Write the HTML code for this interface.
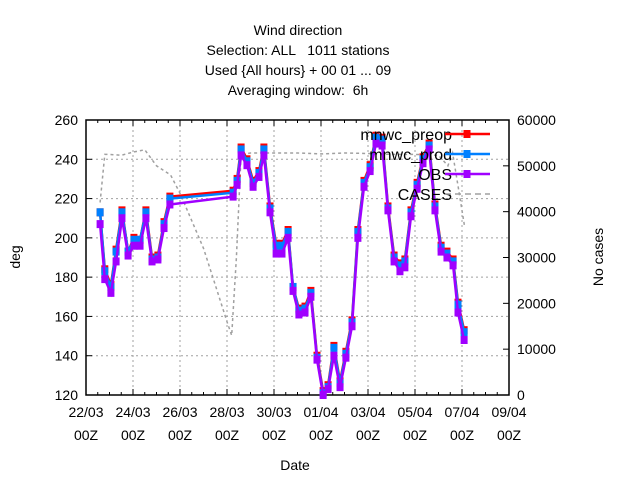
<!DOCTYPE html>
<html><head><meta charset="utf-8"><style>
body{margin:0;background:#fff;}
svg text{font-family:"Liberation Sans",sans-serif;font-size:14px;fill:#000;white-space:pre;}
#legend text{font-size:16px;}
</style></head><body>
<svg id="c" width="640" height="480">
<g>
<text x="298" y="35" text-anchor="middle">Wind direction</text>
<text x="298" y="55" text-anchor="middle">Selection: ALL   1011 stations</text>
<text x="298" y="75" text-anchor="middle">Used {All hours} + 00 01 ... 09</text>
<text x="298" y="95" text-anchor="middle">Averaging window:  6h</text>
</g>
<text transform="translate(20,257) rotate(-90)" text-anchor="middle">deg</text>
<text transform="translate(603,257) rotate(-90)" text-anchor="middle">No cases</text>
<text x="295" y="470" text-anchor="middle">Date</text>
<g id="grid"></g>
<g id="axes"></g>
<g id="series"></g>
<g id="legend"></g>
</svg>
<script>
const xTickLabels=["22/03","24/03","26/03","28/03","30/03","01/04","03/04","05/04","07/04","09/04"];
const yTicks=[120,140,160,180,200,220,240,260];
const y2Ticks=[0,10000,20000,30000,40000,50000,60000];
const days=[0.6,0.8,1.06,1.28,1.53,1.79,2.04,2.3,2.55,2.81,3.06,3.32,3.57,6.26,6.43,6.6,6.85,7.11,7.36,7.57,7.83,8.09,8.34,8.6,8.81,9.06,9.32,9.57,9.83,10.09,10.3,10.55,10.81,11.06,11.32,11.57,11.83,12.09,12.34,12.6,12.85,13.11,13.36,13.57,13.83,14.09,14.34,14.6,14.85,15.11,15.36,15.62,15.83,16.09];
const preop=[213,184,176,194,214,193,200,199,214,190,191,208,221,224,230,246,240,229,234,246,216,197,197,204,175,164,165,173,140,122,125,145,127,142,158,204,229,237,252,251,216,191,187,189,214,228,241,248,217,196,193,189,167,153];
const prod=[213,183,175,193,213,193,199,199,213,189,190,207,220,223,229,245,239,228,233,245,215,196,196,203,175,163,164,172,139,121,124,144,126,141,157,203,228,236,251,250,215,190,186,188,213,227,240,247,216,195,192,188,166,152];
const obs=[207,179,172,188,210,191,196,196,210,188,189,205,217,221,227,242,237,226,231,242,213,192,192,200,173,161,162,170,138,120,123,140,124,139,155,200,226,234,248,247,214,188,183,185,211,225,238,245,214,193,190,186,162,148];
const caseDays=[0.6,0.8,1.0,1.5,2.0,2.5,3.0,3.3,3.6,4.0,4.5,5.0,5.5,6.0,6.2,6.4,6.6,7.0,8.0,9.0,10.0,11.0,12.0,13.0,14.0,15.0,15.4,15.6,15.85,16.1];
const cases=[42000,52500,52500,52300,53000,53500,50000,49000,48000,44000,38000,32000,24000,16000,13000,30000,52500,52800,52800,52800,52600,52800,52700,52500,52500,52300,50000,52800,45000,37000];
const X0=86,X1=509,Y0=395,Y1=120;
const xs=d=>X0+(X1-X0)*d/18;
const ys=v=>Y0-(Y0-Y1)*(v-120)/140;
const y2s=v=>Y0-(Y0-Y1)*v/60000;
const NS="http://www.w3.org/2000/svg";
function mk(t,a,p){const e=document.createElementNS(NS,t);for(const k in a)e.setAttribute(k,a[k]);p.appendChild(e);return e;}
const grid=document.getElementById('grid'),axes=document.getElementById('axes'),ser=document.getElementById('series'),leg=document.getElementById('legend');
yTicks.forEach(v=>{const y=ys(v);
 if(v>120&&v<260){const l=mk('line',{x1:X0,x2:X1,y1:y,y2:y,stroke:'#a0a0a0','stroke-dasharray':'2,3'},grid);}
 mk('line',{x1:X0,x2:X0+6,y1:y,y2:y,stroke:'#000'},axes);
 const t=mk('text',{x:X0-8,y:y+5,'text-anchor':'end'},axes);t.textContent=v;
 });
y2Ticks.forEach(v=>{const y=y2s(v);
 mk('line',{x1:X1-6,x2:X1,y1:y,y2:y,stroke:'#000'},axes);
 const t=mk('text',{x:X1+8,y:y+5},axes);t.textContent=v;
 });
for(let d=0;d<=18;d+=0.5){const x=xs(d);const major=d%2===0;
 mk('line',{x1:x,x2:x,y1:Y0,y2:Y0-(major?6:3),stroke:'#000'},axes);
 mk('line',{x1:x,x2:x,y1:Y1,y2:Y1+(major?6:3),stroke:'#000'},axes);}
xTickLabels.forEach((s,i)=>{const x=xs(i*2);
 if(i>0&&i<9){const l=mk('line',{x1:x,x2:x,y1:Y1,y2:Y0,stroke:'#a0a0a0','stroke-dasharray':'2,3'},grid);}
 const t=mk('text',{x:x,y:417,'text-anchor':'middle'},axes);t.textContent=s;
 
 const t2=mk('text',{x:x,y:440,'text-anchor':'middle'},axes);t2.textContent='00Z';
 });
const fr=mk('rect',{x:X0,y:Y1,width:X1-X0,height:Y0-Y1,fill:'none',stroke:'#000','stroke-width':1.5},axes);

function line(vals,dd,sc,color,w,dash,name,mark){
 const pts=vals.map((v,i)=>xs(dd[i]).toFixed(1)+','+sc(v).toFixed(1)).join(' ');
 const p=mk('polyline',{points:pts,fill:'none',stroke:color,'stroke-width':w},ser);
 if(dash)p.setAttribute('stroke-dasharray',dash);
 
 if(mark)vals.forEach((v,i)=>{const r=mk('rect',{x:xs(dd[i])-3.5,y:sc(v)-4,width:7,height:8,fill:color},ser);
  });}
line(cases,caseDays,y2s,'#a0a0a0',1.5,'3,3','cases',false);
line(preop,days,ys,'#ff0000',2.5,null,'mnwc-preop',true);
line(prod,days,ys,'#0080ff',2.5,null,'mnwc-prod',true);
line(obs,days,ys,'#a000ff',2.5,null,'obs',true);
const items=[['mnwc_preop','#ff0000',null],['mnwc_prod','#0080ff',null],['OBS','#a000ff',null],['CASES','#a0a0a0','6,4']];
items.forEach((it,i)=>{const y=134+i*20;
 const t=mk('text',{x:452,y:y+6,'text-anchor':'end'},leg);t.textContent=it[0];
 
 const l=mk('line',{x1:445,x2:490,y1:y,y2:y,stroke:it[1],'stroke-width':it[2]?1.5:2.5},leg);
 if(it[2])l.setAttribute('stroke-dasharray',it[2]);
 
 if(!it[2]){const r=mk('rect',{x:463.5,y:y-4,width:7,height:8,fill:it[1]},leg);}});
</script>
</body></html>
